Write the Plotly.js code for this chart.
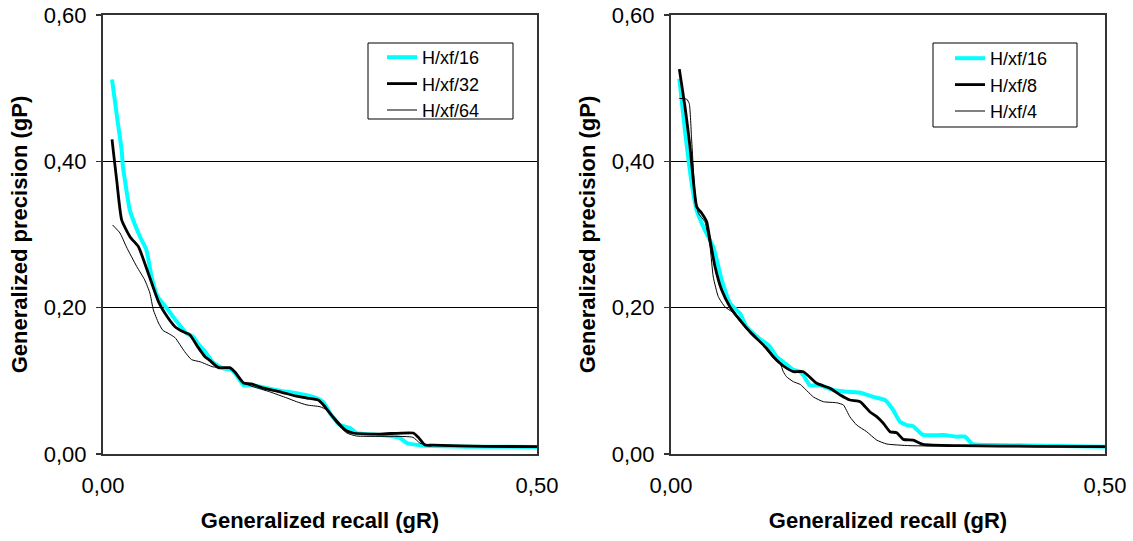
<!DOCTYPE html>
<html>
<head>
<meta charset="utf-8">
<script src="https://cdn.plot.ly/plotly-3.0.1.min.js"></script>
<style>html,body{margin:0;padding:0;background:#fff;}#chart{width:1133px;height:541px;}</style>
</head>
<body>
<div id="chart"></div>
<script>
// ---- Left panel ----
const leftNames = ["H/xf/16", "H/xf/32", "H/xf/64"];
const leftRecall16 = [0.0104,0.016,0.0215,0.023,0.0253,0.031,0.0426,0.050,0.056,0.063,0.073,0.085,0.096,0.104,0.110,0.1175,0.127,0.1386,0.148,0.156,0.162,0.171,0.204,0.223,0.246,0.254,0.2615,0.273,0.2846,0.292,0.319,0.342,0.350,0.365,0.42,0.50];
const leftPrec16   = [0.512,0.462,0.415,0.392,0.374,0.333,0.297,0.279,0.242,0.215,0.200,0.181,0.165,0.160,0.150,0.140,0.125,0.117,0.115,0.104,0.094,0.094,0.0865,0.083,0.0765,0.071,0.056,0.0396,0.0355,0.0287,0.026,0.022,0.015,0.012,0.010,0.0096];
const leftRecall32 = [0.0104,0.0118,0.0158,0.0215,0.031,0.041,0.048,0.056,0.064,0.071,0.083,0.0925,0.100,0.110,0.1175,0.123,0.133,0.146,0.152,0.162,0.171,0.185,0.204,0.223,0.235,0.248,0.254,0.265,0.279,0.288,0.319,0.3575,0.363,0.371,0.380,0.44,0.50];
const leftPrec32   = [0.430,0.415,0.374,0.320,0.297,0.283,0.261,0.234,0.208,0.193,0.174,0.167,0.163,0.145,0.133,0.128,0.118,0.118,0.112,0.097,0.0957,0.090,0.085,0.079,0.0765,0.0738,0.067,0.0506,0.0328,0.0287,0.0273,0.0287,0.0232,0.0123,0.0120,0.0105,0.010];
const leftRecall64 = [0.011,0.0196,0.027,0.039,0.048,0.054,0.058,0.064,0.069,0.075,0.083,0.094,0.102,0.112,0.127,0.146,0.152,0.162,0.173,0.192,0.212,0.223,0.235,0.250,0.258,0.269,0.281,0.292,0.357,0.365,0.373,0.44,0.50];
const leftPrec64   = [0.313,0.302,0.283,0.256,0.238,0.220,0.197,0.179,0.169,0.165,0.159,0.140,0.129,0.126,0.119,0.1175,0.111,0.097,0.092,0.085,0.0765,0.0715,0.067,0.0646,0.060,0.0424,0.0287,0.0246,0.0228,0.015,0.0123,0.0105,0.010];

// ---- Right panel ----
const rightNames = ["H/xf/16", "H/xf/8", "H/xf/4"];
const rightRecall16 = [0.0096,0.016,0.0238,0.0296,0.039,0.0487,0.0584,0.068,0.0795,0.087,0.1025,0.110,0.114,0.1217,0.1336,0.141,0.149,0.1525,0.160,0.1716,0.187,0.2025,0.218,0.233,0.2465,0.256,0.2638,0.2715,0.279,0.2903,0.3134,0.3288,0.3387,0.3475,0.371,0.448,0.50];
const rightPrec16   = [0.513,0.443,0.370,0.333,0.306,0.283,0.238,0.206,0.192,0.174,0.157,0.151,0.1466,0.133,0.122,0.115,0.1125,0.108,0.094,0.094,0.0875,0.085,0.0838,0.078,0.0738,0.060,0.044,0.0396,0.038,0.026,0.026,0.0237,0.0237,0.0137,0.0123,0.011,0.010];
const rightRecall8 = [0.0096,0.0161,0.0219,0.0257,0.0296,0.0354,0.0411,0.045,0.0507,0.0584,0.068,0.0795,0.091,0.0987,0.110,0.118,0.1256,0.1336,0.141,0.1525,0.168,0.1832,0.195,0.206,0.218,0.229,0.237,0.2446,0.2523,0.260,0.2677,0.279,0.2903,0.333,0.42,0.50];
const rightPrec8   = [0.526,0.475,0.420,0.374,0.338,0.329,0.3175,0.292,0.256,0.224,0.201,0.183,0.167,0.158,0.1445,0.133,0.124,0.117,0.1125,0.1125,0.0966,0.0898,0.0806,0.0738,0.0715,0.0578,0.051,0.042,0.0305,0.029,0.020,0.019,0.0132,0.0114,0.0105,0.010];
const rightRecall4 = [0.0096,0.018,0.021,0.0238,0.0277,0.0315,0.039,0.045,0.0487,0.0545,0.0622,0.070,0.0795,0.095,0.1025,0.118,0.1256,0.1294,0.133,0.141,0.149,0.164,0.1755,0.191,0.1986,0.206,0.2139,0.2254,0.237,0.2485,0.2754,0.40,0.50];
const rightPrec4   = [0.486,0.485,0.479,0.429,0.356,0.329,0.3175,0.283,0.242,0.215,0.201,0.1945,0.181,0.160,0.1535,0.131,0.124,0.1125,0.1057,0.0988,0.095,0.078,0.0715,0.070,0.067,0.051,0.0396,0.0305,0.019,0.0137,0.0114,0.0105,0.010];

const xTickVals = [0, 0.5];
const yTickVals = [0, 0.2, 0.4, 0.6];
const xTitle = "Generalized recall (gR)";
const yTitle = "Generalized precision (gP)";

const FONT = "Arial, 'Liberation Sans', sans-serif";
const CYAN = "#00ffff";
const styles = [
  {color: CYAN, width: 4},
  {color: "#000000", width: 2.8},
  {color: "#000000", width: 1}
];

function mk(x, y, name, st, xa, ya, leg) {
  return {x: x, y: y, name: name, type: "scatter", mode: "lines",
    line: {color: st.color, width: st.width, shape: "spline", smoothing: 0.5},
    xaxis: xa, yaxis: ya, legend: leg, hoverinfo: "x+y+name"};
}

const data = [
  mk(leftRecall16, leftPrec16, leftNames[0], styles[0], "x", "y", "legend"),
  mk(leftRecall32, leftPrec32, leftNames[1], styles[1], "x", "y", "legend"),
  mk(leftRecall64, leftPrec64, leftNames[2], styles[2], "x", "y", "legend"),
  mk(rightRecall16, rightPrec16, rightNames[0], styles[0], "x2", "y2", "legend2"),
  mk(rightRecall8, rightPrec8, rightNames[1], styles[1], "x2", "y2", "legend2"),
  mk(rightRecall4, rightPrec4, rightNames[2], styles[2], "x2", "y2", "legend2")
];

function xAxis(domain, anchor) {
  return {domain: domain, anchor: anchor, range: [0, 0.5], tickvals: xTickVals,
    tickformat: ".2f", ticks: "", showgrid: false, zeroline: false,
    showline: true, mirror: true, linecolor: "#333", linewidth: 2,
    ticklabelstandoff: 11,
    tickfont: {family: FONT, size: 22, color: "#000"},
    title: {text: xTitle, standoff: 15, font: {family: FONT, size: 22, color: "#000", weight: "bold"}}};
}
function yAxis(anchor) {
  return {domain: [0, 1], anchor: anchor, range: [0, 0.6], tickvals: yTickVals,
    tickformat: ".2f", ticks: "outside", ticklen: 5, tickcolor: "#333", tickwidth: 1.5,
    showgrid: true, gridcolor: "#000", gridwidth: 1, zeroline: false,
    showline: true, mirror: true, linecolor: "#333", linewidth: 2,
    ticklabelstandoff: 5,
    tickfont: {family: FONT, size: 22, color: "#000"},
    title: {text: yTitle, standoff: 10, font: {family: FONT, size: 22, color: "#000", weight: "bold"}}};
}

const W = 1133, H = 541;
const L = 103, R = 28, T = 15, B = 87;
const PW = W - L - R, PH = H - T - B;
function px(v) { return (v - L) / PW; }
function py(v) { return (H - B - v) / PH; }

const layout = {
  width: W, height: H,
  margin: {l: L, r: R, t: T, b: B},
  paper_bgcolor: "#fff", plot_bgcolor: "#fff",
  separators: ", ",
  font: {family: FONT, color: "#000"},
  showlegend: true,
  xaxis: xAxis([0, 434 / PW], "y"),
  yaxis: yAxis("x"),
  xaxis2: xAxis([(671 - L) / PW, 1], "y2"),
  yaxis2: yAxis("x2"),
  legend: {x: px(382), y: py(39), xanchor: "left", yanchor: "top",
    bgcolor: "rgba(0,0,0,0)", borderwidth: 0,
    font: {family: FONT, size: 18, color: "#000"}},
  legend2: {x: px(950), y: py(40), xanchor: "left", yanchor: "top",
    bgcolor: "rgba(0,0,0,0)", borderwidth: 0,
    font: {family: FONT, size: 18, color: "#000"}},
  shapes: [
    {type: "rect", xref: "paper", yref: "paper", x0: px(368), x1: px(513), y0: py(119), y1: py(43),
      line: {color: "#000", width: 1}, fillcolor: "#fff", layer: "above"},
    {type: "rect", xref: "paper", yref: "paper", x0: px(933), x1: px(1077), y0: py(127), y1: py(43),
      line: {color: "#000", width: 1}, fillcolor: "#fff", layer: "above"}
  ]
};

Plotly.newPlot("chart", data, layout, {displayModeBar: false, staticPlot: true});
</script>
</body>
</html>
